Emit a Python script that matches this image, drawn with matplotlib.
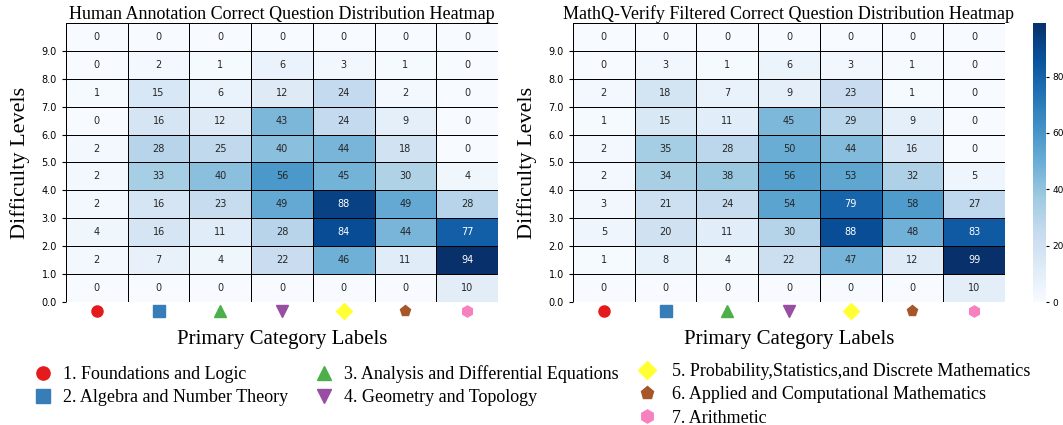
import matplotlib
matplotlib.use("Agg")
import matplotlib.pyplot as plt
import matplotlib.transforms as mtransforms
from matplotlib.lines import Line2D
import numpy as np

# rows listed from difficulty 9 (top) down to 0 (bottom)
human_counts = [
    [0, 0, 0, 0, 0, 0, 0],
    [0, 2, 1, 6, 3, 1, 0],
    [1, 15, 6, 12, 24, 2, 0],
    [0, 16, 12, 43, 24, 9, 0],
    [2, 28, 25, 40, 44, 18, 0],
    [2, 33, 40, 56, 45, 30, 4],
    [2, 16, 23, 49, 88, 49, 28],
    [4, 16, 11, 28, 84, 44, 77],
    [2, 7, 4, 22, 46, 11, 94],
    [0, 0, 0, 0, 0, 0, 10],
]
mathq_counts = [
    [0, 0, 0, 0, 0, 0, 0],
    [0, 3, 1, 6, 3, 1, 0],
    [2, 18, 7, 9, 23, 1, 0],
    [1, 15, 11, 45, 29, 9, 0],
    [2, 35, 28, 50, 44, 16, 0],
    [2, 34, 38, 56, 53, 32, 5],
    [3, 21, 24, 54, 79, 58, 27],
    [5, 20, 11, 30, 88, 48, 83],
    [1, 8, 4, 22, 47, 12, 99],
    [0, 0, 0, 0, 0, 0, 10],
]
difficulty_ticks = [0.0, 1.0, 2.0, 3.0, 4.0, 5.0, 6.0, 7.0, 8.0, 9.0]
cbar_ticks = [0, 20, 40, 60, 80]
categories = [
    "1. Foundations and Logic",
    "2. Algebra and Number Theory",
    "3. Analysis and Differential Equations",
    "4. Geometry and Topology",
    "5. Probability,Statistics,and Discrete Mathematics",
    "6. Applied and Computational Mathematics",
    "7. Arithmetic",
]
markers = ["o", "s", "^", "v", "D", "p", "h"]
marker_colors = ["#e41a1c", "#377eb8", "#4daf4a", "#984ea3",
                 "#ffff33", "#a65628", "#f781bf"]

SERIF = "Liberation Serif"
cmap = plt.get_cmap("Blues")

fig = plt.figure(figsize=(10.63, 4.25), dpi=100)
ax_l = fig.add_axes([0.0621, 0.2894, 0.4064, 0.6565])
ax_r = fig.add_axes([0.539, 0.2894, 0.4064, 0.6565])
cax = fig.add_axes([0.9718, 0.2894, 0.0122, 0.6565])


def draw_heat(ax, counts, title):
    data = np.array(counts[::-1], dtype=float)  # row 0 = difficulty 0
    vmax = data.max()
    nrow, ncol = data.shape
    mesh = ax.pcolormesh(np.arange(ncol + 1), np.arange(nrow + 1), data,
                         cmap=cmap, vmin=0, vmax=vmax,
                         edgecolors="black", linewidth=0.6)
    for i in range(nrow):
        for j in range(ncol):
            r, g, b, _ = cmap(data[i, j] / vmax)
            lum = 0.2126 * r + 0.7152 * g + 0.0722 * b
            ax.text(j + 0.5, i + 0.5, f"{int(data[i, j])}",
                    ha="center", va="center", fontsize=7,
                    color=".15" if lum > 0.408 else "white")
    ax.set_xlim(0, ncol)
    ax.set_ylim(0, nrow)
    ax.set_yticks(difficulty_ticks)
    ax.set_yticklabels([f"{t:.1f}" for t in difficulty_ticks])
    ax.tick_params(axis="y", labelsize=7, length=3, width=0.8)
    ax.set_xticks([])
    for s in ax.spines.values():
        s.set_visible(False)
    trans = mtransforms.blended_transform_factory(ax.transData, ax.transAxes)
    for j, (m, c) in enumerate(zip(markers, marker_colors)):
        ax.plot(j + 0.5, -0.033, marker=m, color=c, markersize=8,
                transform=trans, clip_on=False, linestyle="none")
    ax.set_title(title, fontsize=13, family=SERIF, pad=3)
    ax.set_ylabel("Difficulty Levels", fontsize=16, family=SERIF, labelpad=8)
    ax.set_xlabel("Primary Category Labels", fontsize=15, family=SERIF,
                  labelpad=20)
    return mesh


draw_heat(ax_l, human_counts, "Human Annotation Correct Question Distribution Heatmap")
mesh_r = draw_heat(ax_r, mathq_counts, "MathQ-Verify Filtered Correct Question Distribution Heatmap")

cb = fig.colorbar(mesh_r, cax=cax)
cb.outline.set_visible(False)
cb.set_ticks(cbar_ticks)
cb.ax.tick_params(labelsize=6.5, length=2.5, width=0.8, pad=2)

handles = [Line2D([], [], marker=m, color=c, linestyle="none", markersize=9.5)
           for m, c in zip(markers, marker_colors)]
leg_font = {"family": SERIF, "size": 13}
leg1 = fig.legend(handles[:4], categories[:4], ncol=2, frameon=False,
                  prop=leg_font, loc="upper left", bbox_to_anchor=(34 / 1063, 0.141),
                  handletextpad=0.6, columnspacing=1.5, labelspacing=0.35,
                  handlelength=1.0, borderaxespad=0, borderpad=0)
leg2 = fig.legend(handles[4:], categories[4:], ncol=1, frameon=False,
                  prop=leg_font, loc="upper left", bbox_to_anchor=(638 / 1063, 0.146),
                  handletextpad=0.9, labelspacing=0.35,
                  handlelength=1.0, borderaxespad=0, borderpad=0)

fig.savefig("out.png", dpi=100)
